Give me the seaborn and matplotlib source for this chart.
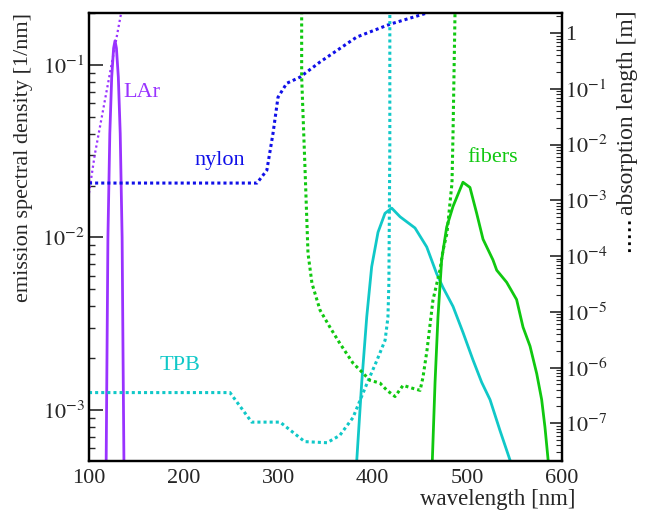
import numpy as np
import pandas as pd
import matplotlib
matplotlib.use("Agg")
import matplotlib.pyplot as plt
import matplotlib.ticker as mticker
from matplotlib.lines import Line2D
import seaborn as sns

# ---------------- data ----------------
# emission spectra (left axis, 1/nm)
lar_em_wl = [116, 118, 119, 120, 122, 124, 126, 127.5, 129, 131, 133, 135, 136, 137, 139]
lar_em_val = [1e-4, 4e-4, 2e-3, 1e-2, 0.04, 0.085, 0.125, 0.138, 0.125, 0.085, 0.04, 0.01, 2e-3, 4.5e-4, 1e-4]

tpb_em_wl = [381, 383, 388.3, 393.6, 398.8, 405.5, 412.9, 420, 428.8, 444.6, 457, 467.5, 474.2,
             484.8, 495.3, 505.9, 515.1, 523.9, 534.5, 545, 548]
tpb_em_log = [-3.6, -3.296, -2.84, -2.46, -2.17, -1.97, -1.86, -1.83, -1.88, -1.945, -2.055, -2.21, -2.29,
              -2.40, -2.55, -2.71, -2.84, -2.94, -3.12, -3.29, -3.4]

fib_em_wl = [462, 462.9, 465.8, 468.9, 472.8, 478.1, 484.8, 495.3, 502.7, 509.8, 516.5, 527, 531,
             541.5, 552, 558.8, 566.2, 573.3, 578.5, 582, 585.5, 587]
fib_em_log = [-3.6, -3.296, -2.84, -2.46, -2.13, -1.94, -1.82, -1.68, -1.71, -1.86, -2.01, -2.13, -2.19,
              -2.26, -2.36, -2.52, -2.63, -2.79, -2.94, -3.10, -3.30, -3.4]

# absorption lengths (right axis, m)
lar_ab_wl = [100, 106, 140]
lar_ab_log = [-2.87, -2.19, 0.91]

nylon_ab_wl = [100, 277.6, 288, 294.5, 299.8, 309, 323, 344, 354.8, 383, 418, 457, 480]
nylon_ab_log = [-2.69, -2.69, -2.46, -1.80, -1.15, -0.90, -0.79, -0.52, -0.395, -0.07, 0.16, 0.36, 0.55]

tpb_ab_wl = [100, 249, 272, 302, 328, 351.6, 365, 379, 386.5, 394, 404.4, 413, 416, 417, 418, 418]
tpb_ab_log = [-6.45, -6.45, -6.98, -6.98, -7.33, -7.35, -7.22, -6.90, -6.59, -6.28, -5.87, -5.51,
              -5.10, -4.49, -2.0, 1.0]

fib_ab_wl = [324.8, 324.8, 328.3, 331.5, 335.7, 344.2, 354.8, 365.3, 379, 389.6, 397, 407.6, 415,
             423.5, 432, 441.4, 450, 453, 457.3, 463.6, 471, 474.2, 478.4, 483.7, 484.8, 486.9, 487.5]
fib_ab_log = [1.0, -0.79, -2.41, -3.95, -4.49, -4.97, -5.28, -5.57, -5.92, -6.10, -6.23, -6.28, -6.41,
              -6.52, -6.32, -6.37, -6.41, -6.18, -5.69, -4.79, -4.25, -3.90, -3.59, -2.69, -1.80, 0.36, 1.0]

labels = ["LAr", "nylon", "fibers", "TPB"]
label_wl = [136, 212, 500, 175]
label_val = [0.069, 0.028, 0.029, 1.8e-3]

x_ticks = [100, 200, 300, 400, 500, 600]

# ---------------- style ----------------
sns.set_style("white")
plt.rcParams['font.family'] = ['Liberation Serif', 'DejaVu Serif']
plt.rcParams['mathtext.fontset'] = 'stix'

c_lar = "#9933ff"
c_nylon = "#1010e8"
c_tpb = "#10c8c8"
c_fib = "#10c810"
dot = (0, (1.0, 1.0))

fig = plt.figure(figsize=(6.45, 5.11), dpi=100)
ax = fig.add_axes([89/645, 50/511, (562-89)/645, (461-13)/511])
ax2 = ax.twinx()

def line(a, wl, vals, color, ls="-", logv=False, lw=None):
    v = np.power(10.0, vals) if logv else np.asarray(vals)
    df = pd.DataFrame({"wl": wl, "v": v})
    if lw is None:
        lw = 2.0 if ls == "-" else 2.2
    sns.lineplot(data=df, x="wl", y="v", ax=a, color=color, sort=False,
                 estimator=None, linewidth=lw, linestyle=ls, legend=False)

# emission (left)
line(ax, lar_em_wl, lar_em_val, c_lar)
line(ax, tpb_em_wl, tpb_em_log, c_tpb, logv=True)
line(ax, fib_em_wl, fib_em_log, c_fib, logv=True)
# absorption (right)
line(ax2, lar_ab_wl, lar_ab_log, c_lar, (0, (1.0, 1.3)), logv=True, lw=1.6)
line(ax2, nylon_ab_wl, nylon_ab_log, c_nylon, dot, logv=True)
line(ax2, tpb_ab_wl, tpb_ab_log, c_tpb, dot, logv=True)
line(ax2, fib_ab_wl, fib_ab_log, c_fib, dot, logv=True)

ax.set_xlim(100, 600)
ax.set_yscale("log")
ax.set_ylim(5.06e-4, 0.2)
ax2.set_yscale("log")
ax2.set_ylim(2.1e-8, 2.3)

for t, xw, yv, c in zip(labels, label_wl, label_val, [c_lar, c_nylon, c_fib, c_tpb]):
    ax.text(xw, yv, t, color=c, fontsize=16, va="center", ha="left")

# ticks
ax.xaxis.set_major_locator(mticker.FixedLocator(x_ticks))
ax.xaxis.set_minor_locator(mticker.MultipleLocator(20))
ax.yaxis.set_major_locator(mticker.LogLocator(base=10, numticks=20))
ax.yaxis.set_minor_locator(mticker.LogLocator(base=10, subs=np.arange(2, 10), numticks=20))
ax2.yaxis.set_major_locator(mticker.LogLocator(base=10, numticks=20))
ax2.yaxis.set_minor_locator(mticker.LogLocator(base=10, subs=np.arange(2, 10), numticks=20))

def logfmt(v, pos):
    e = int(round(np.log10(v)))
    return "1" if e == 0 else r"$10^{%d}$" % e
ax.yaxis.set_major_formatter(mticker.FuncFormatter(logfmt))
ax2.yaxis.set_major_formatter(mticker.FuncFormatter(logfmt))
ax.yaxis.set_minor_formatter(mticker.NullFormatter())
ax2.yaxis.set_minor_formatter(mticker.NullFormatter())

ax.tick_params(axis="x", which="major", direction="in", length=8, width=1.2, labelsize=16, pad=6, top=False)
ax.tick_params(axis="x", which="minor", direction="in", length=4, width=1.0, top=False)
ax.tick_params(axis="y", which="major", direction="in", length=10, width=1.2, labelsize=16, pad=3, right=False)
ax.tick_params(axis="y", which="minor", direction="in", length=4.5, width=1.0, right=False)
ax2.tick_params(axis="y", which="major", direction="in", length=8.5, width=1.2, labelsize=16, pad=2)
ax2.tick_params(axis="y", which="minor", direction="in", length=4.5, width=0.8)

for a in (ax, ax2):
    for s in a.spines.values():
        s.set_linewidth(1.6)
        s.set_color("black")
    a.set_xlabel("")
    a.set_ylabel("")

# axis titles
fig.text(24/645, 1 - 13/511, "emission spectral density [1/nm]", rotation=90,
         ha="center", va="top", fontsize=16)
fig.text(628/645, 1 - 10/511, "absorption length [m]", rotation=90,
         ha="center", va="top", fontsize=17)
fig.add_artist(Line2D([629/645, 629/645], [1 - 221/511, 1 - 254/511], transform=fig.transFigure,
                      color="black", linewidth=2.0, linestyle=(0, (1.0, 1.5))))
fig.text(575/645, 1.5/511, "wavelength [nm]", ha="right", va="bottom", fontsize=16.5)

fig.savefig("out.png", dpi=100)
